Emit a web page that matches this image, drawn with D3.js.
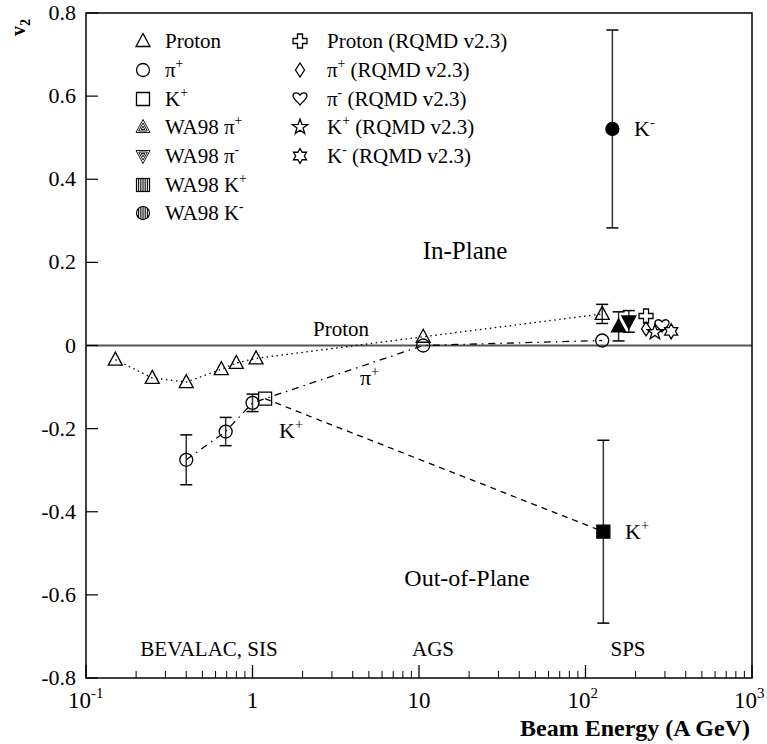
<!DOCTYPE html>
<html lang="en">
<head>
<meta charset="UTF-8">
<title>v2 vs Beam Energy</title>
<script src="https://cdnjs.cloudflare.com/ajax/libs/d3/7.8.5/d3.min.js"></script>
<style>
    body { margin: 0; background: #fff; }
    svg { display: block; font-family: 'Liberation Serif', 'Times New Roman', serif; }
</style>
</head>
<body>
<svg id="chart" width="767" height="744"></svg>
<script>
    // measured points (beam energy in A GeV, v2)
    const protonE   = [0.15, 0.25, 0.4, 0.65, 0.8, 1.05, 10.6, 126];
    const protonV2  = [-0.034, -0.078, -0.088, -0.057, -0.042, -0.031, 0.021, 0.076];
    const protonErr = [0, 0, 0, 0, 0, 0, 0, 0.023];

    const pionE   = [0.4, 0.69, 1.0, 10.6, 126];
    const pionV2  = [-0.275, -0.207, -0.138, 0.0, 0.012];
    const pionErr = [0.06, 0.034, 0.021, 0, 0];

    const kaonE  = [1.19, 128];
    const kaonV2 = [-0.128, -0.448];

    // WA98 : pi+, pi-, K+, K-
    const wa98E   = [158, 182, 128, 145];
    const wa98V2  = [0.046, 0.058, -0.448, 0.521];
    const wa98Err = [0.035, 0.026, 0.22, 0.238];
    const wa98Sym = ["triUp", "triDown", "square", "circle"];

    // RQMD v2.3 : proton, pi+, pi-, K+, K-
    const rqmdE   = [231, 231, 288, 261, 327];
    const rqmdV2  = [0.071, 0.040, 0.047, 0.032, 0.034];
    const rqmdSym = ["plus", "diamond", "heart", "star", "hexagram"];

    const xTicks = [0.1, 1, 10, 100, 1000];
    const yTicks = [-0.8, -0.6, -0.4, -0.2, 0, 0.2, 0.4, 0.6, 0.8];

    const svg = d3.select("#chart");
    const mLeft = 86, mRight = 752, mTop = 13, mBottom = 678;

    const x = d3.scaleLog().domain([0.1, 1000]).range([mLeft, mRight]);
    const y = d3.scaleLinear().domain([-0.8, 0.8]).range([mBottom, mTop]);

    // marker shapes
    function starPath(n, ro, ri) {
        const pts = [];
        for (let i = 0; i < 2 * n; i++) {
            const r = i % 2 ? ri : ro;
            const a = Math.PI * i / n - Math.PI / 2;
            pts.push([r * Math.cos(a), r * Math.sin(a)]);
        }
        return "M" + pts.map(p => p[0].toFixed(2) + "," + p[1].toFixed(2)).join("L") + "Z";
    }
    const shapes = {
        triUp: "M0,-7.5L7,5.5L-7,5.5Z",
        triDown: "M0,7.5L7,-5.5L-7,-5.5Z",
        square: "M-6.5,-6.5h13v13h-13Z",
        plus: "M-2.5,-7H2.5V-2.5H7V2.5H2.5V7H-2.5V2.5H-7V-2.5H-2.5Z",
        diamond: "M0,-7L4.5,0L0,7L-4.5,0Z",
        heart: "M0,6C-2,3 -7,0 -7,-3C-7,-6.5 -2.5,-7.5 0,-4C2.5,-7.5 7,-6.5 7,-3C7,0 2,3 0,6Z",
        star: starPath(5, 8, 3.2),
        hexagram: starPath(6, 7.5, 4.33)
    };

    function marker(g, type, cx, cy, filled) {
        const fill = filled ? "#000" : "none";
        if (type === "circle") {
            g.append("circle").attr("cx", cx).attr("cy", cy).attr("r", 6.5)
                .attr("fill", fill).attr("stroke", "#000").attr("stroke-width", 1.3);
        } else {
            g.append("path").attr("d", shapes[type])
                .attr("transform", `translate(${cx},${cy})`)
                .attr("fill", fill).attr("stroke", "#000").attr("stroke-width", 1.3)
                .attr("stroke-linejoin", "miter");
        }
    }

    function errorBar(g, cx, v, err) {
        if (!err) return;
        const y1 = y(v + err), y2 = y(v - err);
        g.append("line").attr("x1", cx).attr("x2", cx).attr("y1", y1).attr("y2", y2)
            .attr("stroke", "#333").attr("stroke-width", 1.5);
        [y1, y2].forEach(yy => g.append("line")
            .attr("x1", cx - 6).attr("x2", cx + 6).attr("y1", yy).attr("y2", yy)
            .attr("stroke", "#000").attr("stroke-width", 1.5));
    }

    // zero line
    svg.append("line").attr("x1", mLeft).attr("x2", mRight).attr("y1", y(0)).attr("y2", y(0))
        .attr("stroke", "#555").attr("stroke-width", 2);

    // connecting lines
    const line = d3.line().x(d => x(d[0])).y(d => y(d[1]));
    svg.append("path").attr("d", line(d3.zip(protonE, protonV2)))
        .attr("fill", "none").attr("stroke", "#000").attr("stroke-width", 1.3)
        .attr("stroke-dasharray", "1.5,3.5");
    svg.append("path").attr("d", line(d3.zip(pionE, pionV2)))
        .attr("fill", "none").attr("stroke", "#000").attr("stroke-width", 1.3)
        .attr("stroke-dasharray", "7,5,1.5,5");
    svg.append("path").attr("d", line(d3.zip(kaonE, kaonV2)))
        .attr("fill", "none").attr("stroke", "#000").attr("stroke-width", 1.3)
        .attr("stroke-dasharray", "6,5");

    const marks = svg.append("g");
    protonE.forEach((e, i) => {
        errorBar(marks, x(e), protonV2[i], protonErr[i]);
        marker(marks, "triUp", x(e), y(protonV2[i]), false);
    });
    pionE.forEach((e, i) => {
        errorBar(marks, x(e), pionV2[i], pionErr[i]);
        marker(marks, "circle", x(e), y(pionV2[i]), false);
    });
    marker(marks, "square", x(kaonE[0]), y(kaonV2[0]), false);
    wa98E.forEach((e, i) => {
        errorBar(marks, x(e), wa98V2[i], wa98Err[i]);
        marker(marks, wa98Sym[i], x(e), y(wa98V2[i]), true);
    });
    rqmdE.forEach((e, i) => {
        marker(marks, rqmdSym[i], x(e), y(rqmdV2[i]), false);
    });

    // frame
    svg.append("rect").attr("x", mLeft).attr("y", mTop)
        .attr("width", mRight - mLeft).attr("height", mBottom - mTop)
        .attr("fill", "none").attr("stroke", "#000").attr("stroke-width", 1.5);

    // x axis ticks (inward)
    const minor = [];
    for (let d = 0.1; d < 1000; d *= 10)
        for (let k = 2; k <= 9; k++) minor.push(d * k);
    svg.append("g").selectAll("line").data(minor).join("line")
        .attr("x1", d => x(d)).attr("x2", d => x(d))
        .attr("y1", mBottom).attr("y2", mBottom - 7)
        .attr("stroke", "#000").attr("stroke-width", 1);
    svg.append("g").selectAll("line").data(xTicks).join("line")
        .attr("x1", d => x(d)).attr("x2", d => x(d))
        .attr("y1", mBottom).attr("y2", mBottom - 13)
        .attr("stroke", "#000").attr("stroke-width", 1.3);

    const xLab = svg.append("g").attr("font-size", 23);
    xTicks.forEach(t => {
        const txt = xLab.append("text").attr("y", mBottom + 30);
        const p = Math.round(Math.log10(t));
        if (p === 0 || p === 1) {
            txt.attr("x", x(t)).attr("text-anchor", "middle").text(p === 0 ? "1" : "10");
        } else {
            // "10" sits just left of the tick, exponent to its right
            txt.attr("x", x(t) - 18);
            txt.append("tspan").text("10");
            txt.append("tspan").attr("dy", -10).attr("font-size", 15).text(p);
        }
    });

    // y axis ticks
    svg.append("g").selectAll("line").data(yTicks).join("line")
        .attr("x1", mLeft).attr("x2", mLeft + 12)
        .attr("y1", d => y(d)).attr("y2", d => y(d))
        .attr("stroke", "#000").attr("stroke-width", 1.2);
    svg.append("g").attr("font-size", 22).attr("text-anchor", "end")
        .selectAll("text").data(yTicks).join("text")
        .attr("x", mLeft - 10).attr("y", d => y(d) + 7)
        .text(d => d === 0 ? "0" : d3.format(".1f")(d).replace("−", "-"));

    // axis titles
    svg.append("text").attr("x", 750).attr("y", 736).attr("text-anchor", "end")
        .attr("font-size", 24).attr("font-weight", "bold").text("Beam Energy (A GeV)");
    const yt = svg.append("text").attr("transform", "translate(25,36) rotate(-90)")
        .attr("font-size", 20).attr("font-weight", "bold");
    yt.append("tspan").text("v");
    yt.append("tspan").attr("dy", 5).attr("font-size", 14).text("2");

    // helper for labels with superscripts
    function label(g, tx, ty, base, sup, rest, size) {
        const t = g.append("text").attr("x", tx).attr("y", ty).attr("font-size", size);
        t.append("tspan").text(base);
        if (sup) t.append("tspan").attr("dy", -9).attr("font-size", size * 0.65).text(sup);
        if (rest) t.append("tspan").attr("dy", sup ? 9 : 0).text(rest);
        return t;
    }

    // annotations in the plot
    const ann = svg.append("g");
    ann.append("text").attr("x", 341).attr("y", 336).attr("font-size", 21)
        .attr("text-anchor", "middle").text("Proton");
    label(ann, 360, 385, "π", "+", null, 22);
    label(ann, 279, 438, "K", "+", null, 22);
    label(ann, 634, 136, "K", "-", null, 22);
    label(ann, 625, 539, "K", "+", null, 22);
    ann.append("text").attr("x", 465).attr("y", 259).attr("font-size", 25)
        .attr("text-anchor", "middle").text("In-Plane");
    ann.append("text").attr("x", 467).attr("y", 586).attr("font-size", 24)
        .attr("text-anchor", "middle").text("Out-of-Plane");
    ann.append("text").attr("x", 209).attr("y", 656).attr("font-size", 21)
        .attr("text-anchor", "middle").text("BEVALAC, SIS");
    ann.append("text").attr("x", 433).attr("y", 656).attr("font-size", 21)
        .attr("text-anchor", "middle").text("AGS");
    ann.append("text").attr("x", 628).attr("y", 656).attr("font-size", 21)
        .attr("text-anchor", "middle").text("SPS");

    // legend
    const leg = svg.append("g");
    const rowY = [41, 70, 99, 127, 156, 185, 213];
    const leftItems = [
        ["triUp", "Proton", null, null],
        ["circle", "π", "+", null],
        ["square", "K", "+", null],
        ["hatchUp", "WA98 π", "+", null],
        ["hatchDown", "WA98 π", "-", null],
        ["hatchSquare", "WA98 K", "+", null],
        ["hatchCircle", "WA98 K", "-", null]
    ];
    const rightItems = [
        ["plus", "Proton (RQMD v2.3)", null, null],
        ["diamond", "π", "+", " (RQMD v2.3)"],
        ["heart", "π", "-", " (RQMD v2.3)"],
        ["star", "K", "+", " (RQMD v2.3)"],
        ["hexagram", "K", "-", " (RQMD v2.3)"]
    ];

    function legendSymbol(type, cx, cy) {
        const g = leg.append("g").attr("transform", `translate(${cx},${cy})`);
        if (type === "hatchUp" || type === "hatchDown") {
            const s = type === "hatchUp" ? 1 : -1;
            [1, 0.62, 0.26].forEach(k => g.append("path")
                .attr("d", `M0,${-7.5 * s * k}L${7 * k},${5.5 * s * k}L${-7 * k},${5.5 * s * k}Z`)
                .attr("transform", `translate(0,${s * 1.5 * (1 - k)})`)
                .attr("fill", "none").attr("stroke", "#000").attr("stroke-width", 0.9));
        } else if (type === "hatchSquare") {
            g.append("rect").attr("x", -6.5).attr("y", -6.5).attr("width", 13).attr("height", 13)
                .attr("fill", "none").attr("stroke", "#000").attr("stroke-width", 1.2);
            d3.range(-4.5, 5, 1.8).forEach(v => g.append("line")
                .attr("x1", v).attr("x2", v).attr("y1", -6.5).attr("y2", 6.5)
                .attr("stroke", "#000").attr("stroke-width", 0.9));
        } else if (type === "hatchCircle") {
            g.append("circle").attr("r", 6.5).attr("fill", "none")
                .attr("stroke", "#000").attr("stroke-width", 1.2);
            d3.range(-4.5, 5, 1.8).forEach(v => {
                const h = Math.sqrt(6.5 * 6.5 - v * v);
                g.append("line").attr("x1", v).attr("x2", v).attr("y1", -h).attr("y2", h)
                    .attr("stroke", "#000").attr("stroke-width", 0.9);
            });
        } else {
            marker(g, type, 0, 0, false);
        }
    }

    leftItems.forEach((it, i) => {
        legendSymbol(it[0], 143, rowY[i]);
        label(leg, 165, rowY[i] + 7, it[1], it[2], it[3], 21);
    });
    rightItems.forEach((it, i) => {
        legendSymbol(it[0], 300, rowY[i]);
        label(leg, 327, rowY[i] + 7, it[1], it[2], it[3], 21);
    });
</script>
</body>
</html>
